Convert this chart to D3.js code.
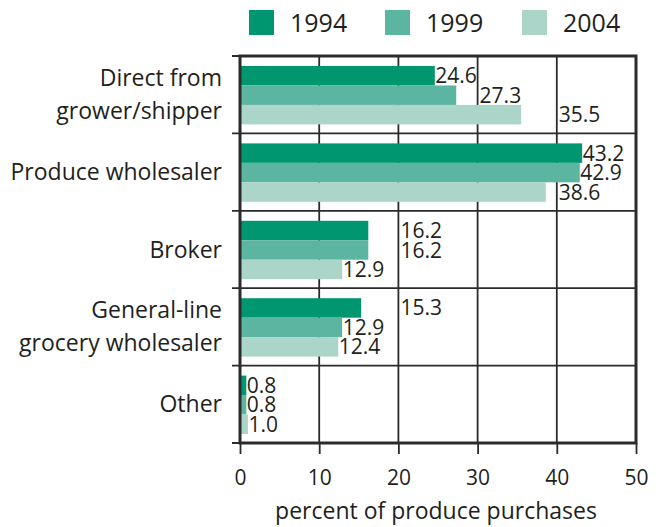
<!DOCTYPE html>
<html>
<head>
<meta charset="utf-8">
<script src="https://cdn.jsdelivr.net/npm/d3@7"></script>
<style>
  body { margin: 0; background: #fff; }
  text { font-family: "Open Sans", sans-serif; fill: #231f20; }
</style>
</head>
<body>
<div id="chart"></div>
<script>
const categories = [
  ['Direct from', 'grower/shipper'],
  ['Produce wholesaler'],
  ['Broker'],
  ['General-line', 'grocery wholesaler'],
  ['Other'],
];
const years = ['1994', '1999', '2004'];
const values1994 = [24.6, 43.2, 16.2, 15.3, 0.8];
const values1999 = [27.3, 42.9, 16.2, 12.9, 0.8];
const values2004 = [35.5, 38.6, 12.9, 12.4, 1.0];
const xTicks = [0, 10, 20, 30, 40, 50];
const colors = ['#009670', '#5bb5a0', '#aad5c8'];
const axisTitle = 'percent of produce purchases';

const series = [values1994, values1999, values2004];
const width = 658;
const height = 527;
const margin = { top: 56, right: 22, bottom: 84, left: 240 };
const ink = '#2b2b2b';

const svg = d3
  .select('#chart')
  .append('svg')
  .attr('width', width)
  .attr('height', height);

const x = d3
  .scaleLinear()
  .domain([0, 50])
  .range([margin.left, width - margin.right]);

const catKeys = categories.map(d => d.join(' '));
const y = d3
  .scaleBand()
  .domain(catKeys)
  .range([margin.top, height - margin.bottom]);

const inner = d3
  .scaleBand()
  .domain(years)
  .range([10, y.bandwidth() - 9]);

// grid lines
const grid = svg.append('g').attr('stroke', ink);
grid
  .selectAll('line.v')
  .data(xTicks.slice(1, -1))
  .enter()
  .append('line')
  .attr('x1', d => x(d))
  .attr('x2', d => x(d))
  .attr('y1', margin.top)
  .attr('y2', height - margin.bottom)
  .attr('stroke-width', 1.8);

const bounds = catKeys.map(k => y(k)).concat([height - margin.bottom]);
grid
  .selectAll('line.h')
  .data(bounds)
  .enter()
  .append('line')
  .attr('x1', margin.left - 8)
  .attr('x2', width - margin.right)
  .attr('y1', d => d)
  .attr('y2', d => d)
  .attr('stroke-width', 1.8);

// bars
const groups = svg
  .selectAll('g.cat')
  .data(catKeys)
  .enter()
  .append('g')
  .attr('transform', k => `translate(0,${y(k)})`);

groups
  .selectAll('rect')
  .data((k, i) => series.map((s, j) => ({ year: years[j], v: s[i], j })))
  .enter()
  .append('rect')
  .attr('x', x(0))
  .attr('y', d => inner(d.year))
  .attr('width', d => x(d.v) - x(0))
  .attr('height', inner.bandwidth())
  .attr('fill', d => colors[d.j]);

// frame
svg
  .append('rect')
  .attr('x', x(0))
  .attr('y', margin.top)
  .attr('width', x(50) - x(0))
  .attr('height', height - margin.bottom - margin.top)
  .attr('fill', 'none')
  .attr('stroke', ink)
  .attr('stroke-width', 3);

// value labels: placed after bar end, pushed past a grid line they would cross
const gridX = xTicks.slice(1, -1).map(d => x(d));
groups
  .selectAll('text.val')
  .data((k, i) => series.map((s, j) => ({ year: years[j], v: s[i], j })))
  .enter()
  .append('text')
  .attr('y', d => inner(d.year) + inner.bandwidth() / 2)
  .attr('dy', '0.36em')
  .attr('font-size', 21)
  .text(d => d.v.toFixed(1))
  .each(function (d) {
    const w = this.getComputedTextLength();
    let x0 = x(d.v) + 0.5;
    gridX.forEach(g => {
      if (g > x0 && g < x0 + w - 3) x0 = g + 2;
    });
    d3.select(this).attr('x', x0);
  });

// bottom axis
const xAxis = svg
  .append('g')
  .attr('transform', `translate(0,${height - margin.bottom})`)
  .call(d3.axisBottom(x).tickValues(xTicks).tickSize(11).tickFormat(d3.format('d')));
xAxis.select('.domain').remove();
xAxis.selectAll('.tick line').attr('stroke', ink).attr('stroke-width', 1.8);
xAxis
  .selectAll('.tick text')
  .attr('y', 42)
  .attr('dy', 0)
  .attr('font-size', 21)
  .attr('font-family', '"Open Sans", sans-serif')
  .attr('fill', '#231f20');

svg
  .append('text')
  .attr('x', (x(0) + x(50)) / 2 - 2)
  .attr('y', 519)
  .attr('text-anchor', 'middle')
  .attr('font-size', 23)
  .text(axisTitle);

// category labels
svg
  .selectAll('text.cat')
  .data(categories)
  .enter()
  .append('text')
  .attr('text-anchor', 'end')
  .attr('font-size', 23)
  .attr('transform', (d, i) => `translate(${margin.left - 18},${y(catKeys[i]) + y.bandwidth() / 2 + 8})`)
  .selectAll('tspan')
  .data(d => d.map((line, li) => ({ line, li, n: d.length })))
  .enter()
  .append('tspan')
  .attr('x', 0)
  .attr('y', d => (d.li - (d.n - 1) / 2) * 33)
  .text(d => d.line);

// legend
const legendX = [249, 385, 522];
const legend = svg
  .selectAll('g.legend')
  .data(years)
  .enter()
  .append('g')
  .attr('transform', (d, i) => `translate(${legendX[i]},10)`);
legend
  .append('rect')
  .attr('width', 25)
  .attr('height', 25)
  .attr('fill', (d, i) => colors[i]);
legend
  .append('text')
  .attr('x', 41)
  .attr('y', 22)
  .attr('font-size', 25)
  .text(d => d);
</script>
</body>
</html>
